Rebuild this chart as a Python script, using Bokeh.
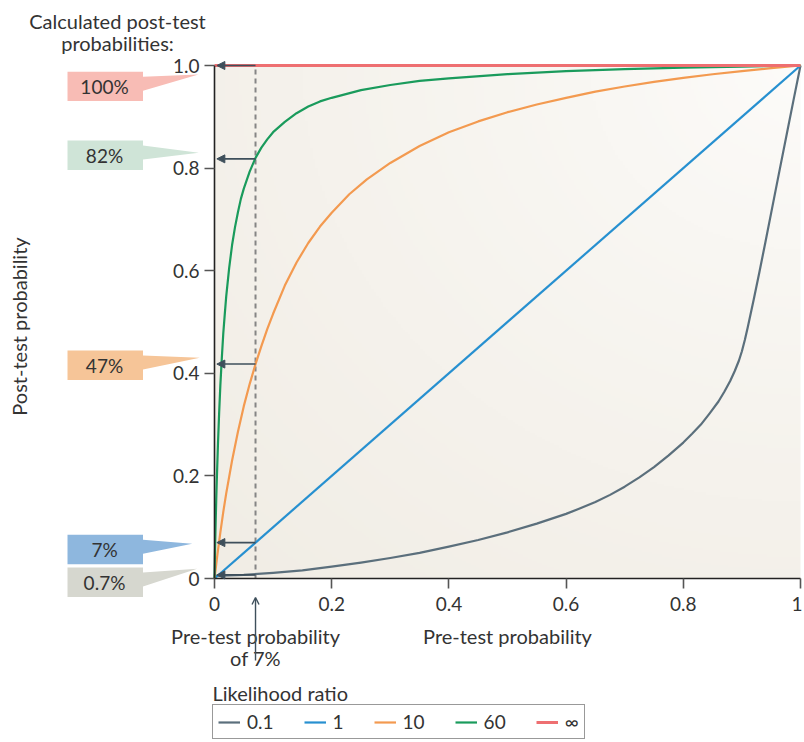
import numpy as np
from bokeh.plotting import figure
from bokeh.models import (Range1d, LinearAxis, FixedTicker, Legend, LegendItem,
                          Arrow, NormalHead, OpenHead)
from bokeh.core.properties import value
from bokeh.embed import file_html
from bokeh.resources import INLINE

# ---------------- data ----------------
lr_labels = ["0.1", "1", "10", "60", "\u221e"]

pre_lr01 = [0.0, 0.05, 0.1, 0.15, 0.2, 0.25, 0.3, 0.35, 0.4, 0.45, 0.5, 0.55, 0.6,
            0.62, 0.65, 0.675, 0.7, 0.725, 0.75, 0.775, 0.8, 0.815, 0.83, 0.845, 0.86,
            0.87, 0.88, 0.888, 0.895, 0.9, 0.905, 0.91, 0.92, 0.93, 0.94, 0.955,
            0.965, 0.977, 0.988, 1.0]
post_lr01 = [0.005, 0.007, 0.011, 0.016, 0.023, 0.031, 0.04, 0.05, 0.062, 0.075, 0.09,
             0.107, 0.126, 0.135, 0.149, 0.163, 0.179, 0.197, 0.217, 0.24, 0.265, 0.282,
             0.3, 0.322, 0.345, 0.364, 0.385, 0.405, 0.425, 0.443, 0.465, 0.49, 0.543,
             0.598, 0.655, 0.742, 0.8, 0.869, 0.932, 1.0]

pre_lr1 = [0.0, 1.0]
post_lr1 = [0.0, 1.0]

pre_lr10 = [0.0, 0.005, 0.01, 0.015, 0.02, 0.03, 0.04, 0.05, 0.06, 0.07, 0.08, 0.09,
            0.1, 0.12, 0.14, 0.16, 0.18, 0.2, 0.23, 0.26, 0.3, 0.35, 0.4, 0.45, 0.5,
            0.55, 0.6, 0.65, 0.7, 0.75, 0.8, 0.85, 0.9, 0.95, 1.0]
post_lr10 = [0.0, 0.047, 0.09, 0.13, 0.166, 0.23, 0.286, 0.336, 0.379, 0.418, 0.453,
             0.486, 0.516, 0.571, 0.616, 0.654, 0.686, 0.713, 0.749, 0.778, 0.81, 0.843,
             0.87, 0.891, 0.909, 0.924, 0.937, 0.949, 0.959, 0.968, 0.976, 0.983,
             0.989, 0.995, 1.0]

pre_lr60 = [0.0, 0.001, 0.002, 0.003, 0.004, 0.006, 0.008, 0.01, 0.0125, 0.015, 0.0175,
            0.02, 0.025, 0.03, 0.035, 0.04, 0.045, 0.05, 0.06, 0.07, 0.08, 0.09, 0.1,
            0.12, 0.14, 0.16, 0.18, 0.2, 0.25, 0.3, 0.35, 0.4, 0.5, 0.6, 0.7, 0.8,
            0.9, 1.0]
post_lr60 = [0.0, 0.06, 0.11, 0.155, 0.195, 0.265, 0.325, 0.377, 0.43, 0.478, 0.515,
             0.55, 0.605, 0.65, 0.685, 0.714, 0.74, 0.76, 0.793, 0.82, 0.84, 0.856,
             0.87, 0.89, 0.907, 0.92, 0.93, 0.937, 0.952, 0.962, 0.97, 0.975, 0.983,
             0.989, 0.993, 0.996, 0.998, 1.0]

pre_lrinf = [0.0, 1.0]
post_lrinf = [1.0, 1.0]

pretest_example = 0.07
posttest_example = [1.0, 0.818, 0.418, 0.07, 0.007]
callout_texts = ["100%", "82%", "47%", "7%", "0.7%"]

x_ticks = [0.0, 0.2, 0.4, 0.6, 0.8, 1.0]
x_tick_labels = ["0", "0.2", "0.4", "0.6", "0.8", "1"]
y_ticks = [0.0, 0.2, 0.4, 0.6, 0.8, 1.0]
y_tick_labels = ["0", "0.2", "0.4", "0.6", "0.8", "1.0"]

# ---------------- styling / layout ----------------
FONT_NAME = "Lato"
FONT = value(FONT_NAME)
TXT = "#333333"
line_colors = ["#5b6f7c", "#2790d0", "#f39a50", "#1a9b5c", "#ee6f71"]
callout_colors = ["#f8bcb5", "#cfe4d7", "#f6c598", "#8eb7de", "#d6d7cf"]
ARROW_C = "#3e4f5b"

SX, SY = 586.0, 513.0          # pixels per data unit
OX, OY = 214.0, 578.0          # picture position of the data origin
W, H = 802, 740
x_start = -OX / SX
x_end = x_start + W / SX
y_end = OY / SY
y_start = y_end - H / SY


def dx(px):
    return (px - OX) / SX


def dy(py):
    return (OY - py) / SY


p = figure(width=W, height=H, x_range=Range1d(x_start, x_end),
           y_range=Range1d(y_start, y_end), output_backend="svg",
           toolbar_location=None, min_border=0, x_axis_type=None, y_axis_type=None)
p.outline_line_color = None
p.background_fill_color = "white"
p.border_fill_color = "white"

# background gradient over the unit square
n = 240
gx, gy = np.meshgrid(np.linspace(0, 1, n), np.linspace(0, 1, n))
d = np.clip(np.sqrt((1 - gx) ** 2 + (1 - gy) ** 2) / np.sqrt(2), 0, 1) ** 0.8
c0 = np.array([253, 252, 250])
c1 = np.array([241, 237, 229])
img = np.empty((n, n), dtype=np.uint32)
view = img.view(dtype=np.uint8).reshape((n, n, 4))
for k in range(3):
    view[:, :, k] = (c0[k] + (c1[k] - c0[k]) * d).astype(np.uint8)
view[:, :, 3] = 255
p.image_rgba(image=[img], x=0, y=0, dw=1, dh=1)

# dashed pre-test line
p.line([pretest_example, pretest_example], [0, 1], line_color="#858585",
       line_width=2, line_dash="5 4")

# curves
series = [(pre_lr01, post_lr01), (pre_lr1, post_lr1), (pre_lr10, post_lr10),
          (pre_lr60, post_lr60), (pre_lrinf, post_lrinf)]
renderers = []
for i, ((xs, ys), col) in enumerate(zip(series, line_colors)):
    lw = 3 if i == 4 else 2.2
    r = p.line(xs, ys, line_color=col, line_width=lw, line_join="round")
    renderers.append(r)

# arrows to the y axis
for v in posttest_example:
    p.add_layout(Arrow(x_start=pretest_example, y_start=v, x_end=0.004, y_end=v,
                       line_color=ARROW_C, line_width=1.6,
                       end=NormalHead(size=8, fill_color=ARROW_C, line_color=ARROW_C)))
p.add_layout(Arrow(x_start=pretest_example, y_start=dy(660), x_end=pretest_example,
                   y_end=dy(597), line_color=ARROW_C, line_width=1.4,
                   end=OpenHead(size=7, line_color=ARROW_C, line_width=1.4)))

# callouts
BX0, BX1 = dx(67), dx(142.5)
HH = 14.7 / SY
centers = [dy(85.9), dy(154.7), dy(364.7), dy(549), dy(581.7)]
tips_x = [dx(198), dx(198.3), dx(199.3), dx(191.7), dx(196.7)]
tips_y = [dy(74), dy(152.3), dy(357.3), dy(543.3), dy(568.3)]
pxs, pys = [], []
for c, tx, ty in zip(centers, tips_x, tips_y):
    top, bot = c + HH, c - HH
    pxs.append([BX0, BX1, BX1, tx, BX1, BX1, BX0])
    pys.append([top, top, top - 5 / SY, ty, top - 19 / SY, bot, bot])
p.patches(pxs, pys, fill_color=callout_colors, line_color=None)
p.text(x=[dx(104)] * 5, y=centers, text=callout_texts, text_font=FONT,
       text_font_size="19px", text_color=TXT, text_align="center",
       text_baseline="middle")

# axes
xaxis = LinearAxis(fixed_location=0, bounds=(0, 1), ticker=FixedTicker(ticks=x_ticks),
                   major_label_overrides=dict(zip(x_ticks, x_tick_labels)))
yaxis = LinearAxis(fixed_location=0, bounds=(0, 1), ticker=FixedTicker(ticks=y_ticks),
                   major_label_overrides=dict(zip(y_ticks, y_tick_labels)))
for ax in (xaxis, yaxis):
    ax.axis_line_color = "#222222"
    ax.axis_line_width = 1.6
    ax.major_tick_line_color = "#555555"
    ax.major_tick_line_width = 1.6
    ax.major_tick_in = 0
    ax.major_tick_out = 10
    ax.minor_tick_line_color = None
    ax.major_label_text_font = FONT_NAME
    ax.major_label_text_font_size = "19px"
    ax.major_label_text_color = TXT
xaxis.major_label_standoff = 8
yaxis.major_label_standoff = 5
p.add_layout(xaxis, "below")
p.add_layout(yaxis, "left")

# free texts
p.text(x=[dx(117), dx(117)], y=[dy(20), dy(42)],
       text=["Calculated post-test", "probabilities:"], text_font=FONT,
       text_font_size="20px", text_color=TXT, text_align="center",
       text_baseline="middle")
p.text(x=[dx(18)], y=[dy(326)], text=["Post-test probability"],
       angle=np.pi / 2, text_font=FONT, text_font_size="20px", text_color=TXT,
       text_align="center", text_baseline="middle")
p.text(x=[pretest_example, pretest_example, 0.5],
       y=[dy(635), dy(657), dy(635)],
       text=["Pre-test probability", "of 7%", "Pre-test probability"], text_font=FONT,
       text_font_size="20px", text_color=TXT, text_align="center",
       text_baseline="middle")
p.text(x=[dx(212)], y=[dy(692)], text=["Likelihood ratio"],
       text_font=FONT, text_font_size="20px", text_color=TXT, text_align="left",
       text_baseline="middle")

legend = Legend(items=[LegendItem(label=l, renderers=[r]) for l, r in zip(lr_labels, renderers)],
                orientation="horizontal", location=(212, 1))
legend.label_text_font = FONT_NAME
legend.label_text_font_size = "19px"
legend.label_text_color = TXT
legend.glyph_width = 22
legend.glyph_height = 16
legend.label_width = 0
legend.label_height = 16
legend.label_standoff = 7
legend.spacing = 30
legend.padding = 5
legend.margin = 0
legend.border_line_color = "#333333"
legend.border_line_width = 1.5
legend.background_fill_color = "white"
legend.background_fill_alpha = 1.0
p.add_layout(legend, "center")

open("out.html", "w").write(file_html(p, INLINE))
